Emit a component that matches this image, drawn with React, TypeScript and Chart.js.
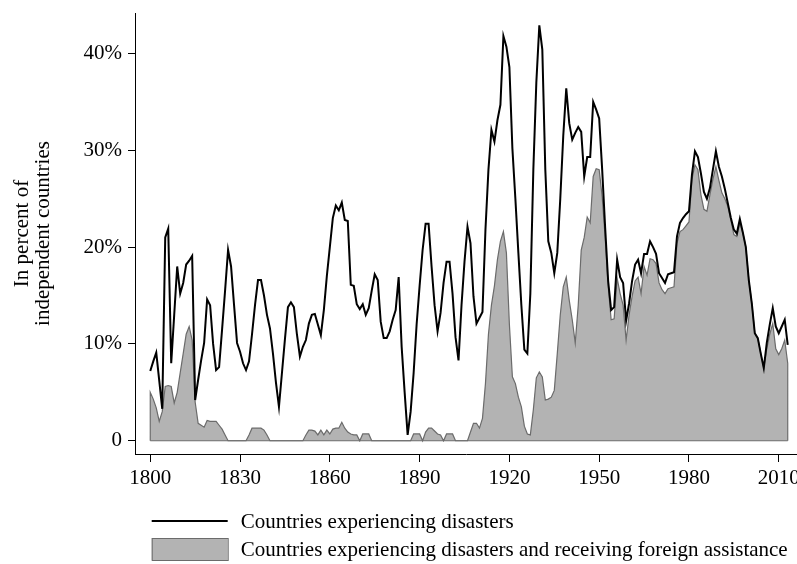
import React, { useEffect, useRef } from "react";
import { Chart, registerables } from "chart.js";

Chart.register(...registerables);

const startYear = 1800;

const disasters: number[] = [
  // 1800-1809
  7.2, 8.2, 9.1, 6.2, 3.3, 21.0, 21.9, 8.0, 13.0, 18.0,
  // 1810-1819
  15.2, 16.3, 18.2, 18.6, 19.1, 4.2, 6.3, 8.3, 10.1, 14.6,
  // 1820-1829
  14.0, 10.0, 7.3, 7.6, 11.5, 15.5, 19.7, 18.0, 14.0, 10.1,
  // 1830-1839
  9.2, 8.0, 7.3, 8.2, 11.0, 14.0, 16.6, 16.6, 15.0, 13.0,
  // 1840-1849
  11.6, 9.0, 6.0, 3.5, 7.0, 10.5, 13.8, 14.3, 13.8, 11.0,
  // 1850-1859
  8.7, 9.7, 10.4, 12.1, 13.0, 13.1, 12.0, 10.9, 13.5, 17.0,
  // 1860-1869
  20.0, 23.0, 24.3, 23.8, 24.6, 22.8, 22.7, 16.1, 16.0, 14.1,
  // 1870-1879
  13.6, 14.1, 13.0, 13.7, 15.5, 17.2, 16.6, 12.3, 10.6, 10.6,
  // 1880-1889
  11.3, 12.5, 13.5, 16.9, 9.7, 5.0, 0.6, 3.0, 7.0, 12.0,
  // 1890-1899
  16.0, 19.7, 22.4, 22.4, 18.0, 14.0, 11.3, 13.2, 16.3, 18.5,
  // 1900-1909
  18.5, 15.2, 10.7, 8.3, 14.0, 18.5, 22.1, 20.4, 14.9, 12.1,
  // 1910-1919
  12.7, 13.3, 21.8, 28.0, 32.1, 30.9, 33.1, 34.7, 41.8, 40.7,
  // 1920-1929
  38.6, 30.2, 25.0, 19.4, 14.0, 9.4, 9.0, 15.2, 28.0, 37.0,
  // 1930-1939
  42.9, 40.4, 28.0, 20.6, 19.4, 17.3, 19.4, 25.0, 31.5, 36.4,
  // 1940-1949
  32.8, 31.1, 31.8, 32.4, 31.9, 27.3, 29.3, 29.3, 35.0, 34.2,
  // 1950-1959
  33.3, 28.0, 22.0, 16.5, 13.5, 13.8, 18.7, 16.9, 16.3, 12.4,
  // 1960-1969
  14.2, 16.5, 18.2, 18.7, 17.3, 19.3, 19.3, 20.6, 20.0, 19.3,
  // 1970-1979
  17.3, 16.8, 16.3, 17.2, 17.3, 17.4, 21.1, 22.5, 23.0, 23.4,
  // 1980-1989
  23.7, 27.5, 29.9, 29.3, 27.6, 25.7, 25.0, 26.1, 28.0, 29.9,
  // 1990-1999
  28.3, 27.3, 26.0, 24.5, 23.0, 21.8, 21.4, 22.9, 21.5, 20.0,
  // 2000-2009
  16.6, 14.2, 11.1, 10.6, 9.0, 7.5, 10.1, 12.0, 13.7, 11.8,
  // 2010-2013
  11.1, 11.8, 12.5, 9.9,
];

const assisted: number[] = [
  // 1800-1809
  5.0, 4.3, 3.4, 2.0, 3.0, 5.6, 5.7, 5.6, 3.9, 5.0,
  // 1810-1819
  7.0, 9.0, 11.0, 11.8, 10.4, 4.0, 1.8, 1.6, 1.4, 2.1,
  // 1820-1829
  2.0, 2.0, 2.0, 1.6, 1.2, 0.6, 0, 0, 0, 0,
  // 1830-1839
  0, 0, 0, 0.6, 1.3, 1.3, 1.3, 1.3, 1.1, 0.6,
  // 1840-1849
  0, 0, 0, 0, 0, 0, 0, 0, 0, 0,
  // 1850-1859
  0, 0, 0.6, 1.1, 1.1, 1.0, 0.6, 1.1, 0.6, 1.1,
  // 1860-1869
  0.7, 1.2, 1.3, 1.3, 1.9, 1.3, 0.9, 0.7, 0.6, 0.6,
  // 1870-1879
  0, 0.7, 0.7, 0.7, 0, 0, 0, 0, 0, 0,
  // 1880-1889
  0, 0, 0, 0, 0, 0, 0, 0, 0.7, 0.7,
  // 1890-1899
  0.7, 0, 0.9, 1.3, 1.3, 1.0, 0.7, 0.6, 0, 0.7,
  // 1900-1909
  0.7, 0.7, 0, 0, 0, 0, 0, 0.9, 1.8, 1.8,
  // 1910-1919
  1.3, 2.3, 5.9, 11.0, 14.0, 16.0, 18.7, 20.6, 21.6, 19.4,
  // 1920-1929
  12.0, 6.6, 5.9, 4.5, 3.5, 1.5, 0.7, 0.6, 3.2, 6.5,
  // 1930-1939
  7.1, 6.6, 4.2, 4.3, 4.5, 5.2, 9.0, 13.0, 15.9, 16.9,
  // 1940-1949
  14.5, 12.5, 10.1, 14.0, 19.7, 21.0, 23.1, 22.5, 27.3, 28.1,
  // 1950-1959
  28.0, 25.2, 21.0, 16.0, 12.5, 12.6, 16.8, 15.2, 14.0, 10.4,
  // 1960-1969
  13.0, 14.9, 16.5, 16.9, 15.2, 18.0, 17.1, 18.8, 18.7, 18.3,
  // 1970-1979
  16.3, 15.6, 15.2, 15.7, 15.8, 15.9, 20.4, 21.6, 21.8, 22.2,
  // 1980-1989
  22.6, 27.0, 28.5, 28.0, 25.4, 23.9, 23.7, 25.4, 27.0, 28.3,
  // 1990-1999
  26.9, 25.6, 25.0, 24.2, 22.8, 21.3, 21.1, 22.5, 21.5, 20.0,
  // 2000-2009
  16.6, 14.2, 11.1, 10.6, 9.0, 7.5, 9.5, 11.0, 12.1, 9.5,
  // 2010-2013
  8.9, 9.5, 10.4, 8.0,
];

const years: number[] = disasters.map((_, i) => startYear + i);

const xTicks: number[] = [1800, 1830, 1860, 1890, 1920, 1950, 1980, 2010];
const yTicks: number[] = [0, 10, 20, 30, 40];
const yTickLabels: string[] = ["0", "10%", "20%", "30%", "40%"];

const seriesNames: string[] = [
  "Countries experiencing disasters",
  "Countries experiencing disasters and receiving foreign assistance",
];

const yTitle: string[] = ["In percent of", "independent countries"];

const FONT = '"Liberation Serif", "Times New Roman", serif';
const AREA_FILL = "#b3b3b3";
const AREA_EDGE = "#6b6b6b";

const legendPlugin = {
  id: "stackedLegend",
  afterDraw(chart: any) {
    const ctx: CanvasRenderingContext2D = chart.ctx;
    const left = chart.chartArea.left + 16.7;
    const boxW = 76;
    const textX = left + boxW + 13;
    ctx.save();
    ctx.font = `21px ${FONT}`;
    ctx.fillStyle = "#000";
    ctx.textBaseline = "middle";
    ctx.textAlign = "left";
    const y1 = 521;
    ctx.strokeStyle = "#000";
    ctx.lineWidth = 2;
    ctx.beginPath();
    ctx.moveTo(left, y1);
    ctx.lineTo(left + boxW, y1);
    ctx.stroke();
    ctx.fillText(seriesNames[0], textX, y1 + 1);
    const y2top = 538;
    const y2h = 22;
    ctx.fillStyle = AREA_FILL;
    ctx.fillRect(left, y2top, boxW, y2h);
    ctx.strokeStyle = AREA_EDGE;
    ctx.lineWidth = 1;
    ctx.strokeRect(left + 0.5, y2top + 0.5, boxW, y2h);
    ctx.fillStyle = "#000";
    ctx.fillText(seriesNames[1], textX, y2top + y2h / 2 + 1);
    ctx.restore();
  },
};

export default function App() {
  const canvasRef = useRef<HTMLCanvasElement | null>(null);

  useEffect(() => {
    document.body.style.margin = "0";
    const canvas = canvasRef.current;
    if (!canvas) return;

    const first = years[0];
    const last = years[years.length - 1];

    const areaData = [
      { x: first, y: 0 },
      ...years.map((yr, i) => ({ x: yr, y: assisted[i] })),
      { x: last, y: 0 },
    ];
    const lineData = years.map((yr, i) => ({ x: yr, y: disasters[i] }));
    const baseData = [
      { x: first, y: 0 },
      { x: last, y: 0 },
    ];

    const chart = new Chart(canvas, {
      type: "line",
      data: {
        datasets: [
          {
            label: seriesNames[0],
            data: lineData,
            borderColor: "#000",
            borderWidth: 2,
            pointRadius: 0,
            tension: 0,
            fill: false,
          },
          {
            label: "baseline",
            data: baseData,
            borderColor: AREA_EDGE,
            borderWidth: 1.2,
            pointRadius: 0,
            fill: false,
          },
          {
            label: seriesNames[1],
            data: areaData,
            borderColor: AREA_EDGE,
            backgroundColor: AREA_FILL,
            borderWidth: 1.2,
            pointRadius: 0,
            tension: 0,
            fill: "origin",
          },
        ],
      },
      options: {
        animation: false,
        responsive: false,
        events: [],
        layout: { padding: { top: 13, left: 0, right: 0, bottom: 0 } },
        plugins: {
          legend: { display: false },
          tooltip: { enabled: false },
          title: { display: false },
        },
        scales: {
          x: {
            type: "linear",
            min: 1794.9,
            max: 2016.1,
            border: { display: true, color: "#000", width: 1 },
            grid: {
              display: true,
              drawOnChartArea: false,
              drawTicks: true,
              tickLength: 8,
              color: "#000",
              lineWidth: 1,
            },
            ticks: {
              color: "#000",
              font: { family: FONT, size: 21 },
              padding: 4,
              maxRotation: 0,
              callback: (v: any) => String(v),
            },
            afterBuildTicks: (scale: any) => {
              scale.ticks = xTicks.map((v) => ({ value: v }));
            },
            afterFit: (scale: any) => {
              scale.height = 110;
              scale.paddingLeft = 0;
              scale.paddingRight = 0;
            },
          },
          y: {
            type: "linear",
            min: -1.37,
            max: 44.18,
            border: { display: true, color: "#000", width: 1 },
            grid: {
              display: true,
              drawOnChartArea: false,
              drawTicks: true,
              tickLength: 7,
              color: "#000",
              lineWidth: 1,
            },
            ticks: {
              color: "#000",
              font: { family: FONT, size: 21 },
              padding: 6,
              callback: (v: any) => {
                const idx = yTicks.indexOf(Number(v));
                return idx >= 0 ? yTickLabels[idx] : "";
              },
            },
            afterBuildTicks: (scale: any) => {
              scale.ticks = yTicks.map((v) => ({ value: v }));
            },
            afterFit: (scale: any) => {
              scale.width = 135;
              scale.paddingTop = 0;
              scale.paddingBottom = 0;
            },
            title: {
              display: true,
              text: yTitle,
              color: "#000",
              font: { family: FONT, size: 21, lineHeight: 1.0 },
              padding: { top: 11.5, bottom: 0 },
            },
          },
        },
      },
      plugins: [legendPlugin],
    });

    return () => {
      chart.destroy();
    };
  }, []);

  return (
    <div style={{ position: "fixed", left: 0, top: 0, width: 797, height: 564, background: "#fff" }}>
      <canvas ref={canvasRef} width={797} height={564} />
    </div>
  );
}
